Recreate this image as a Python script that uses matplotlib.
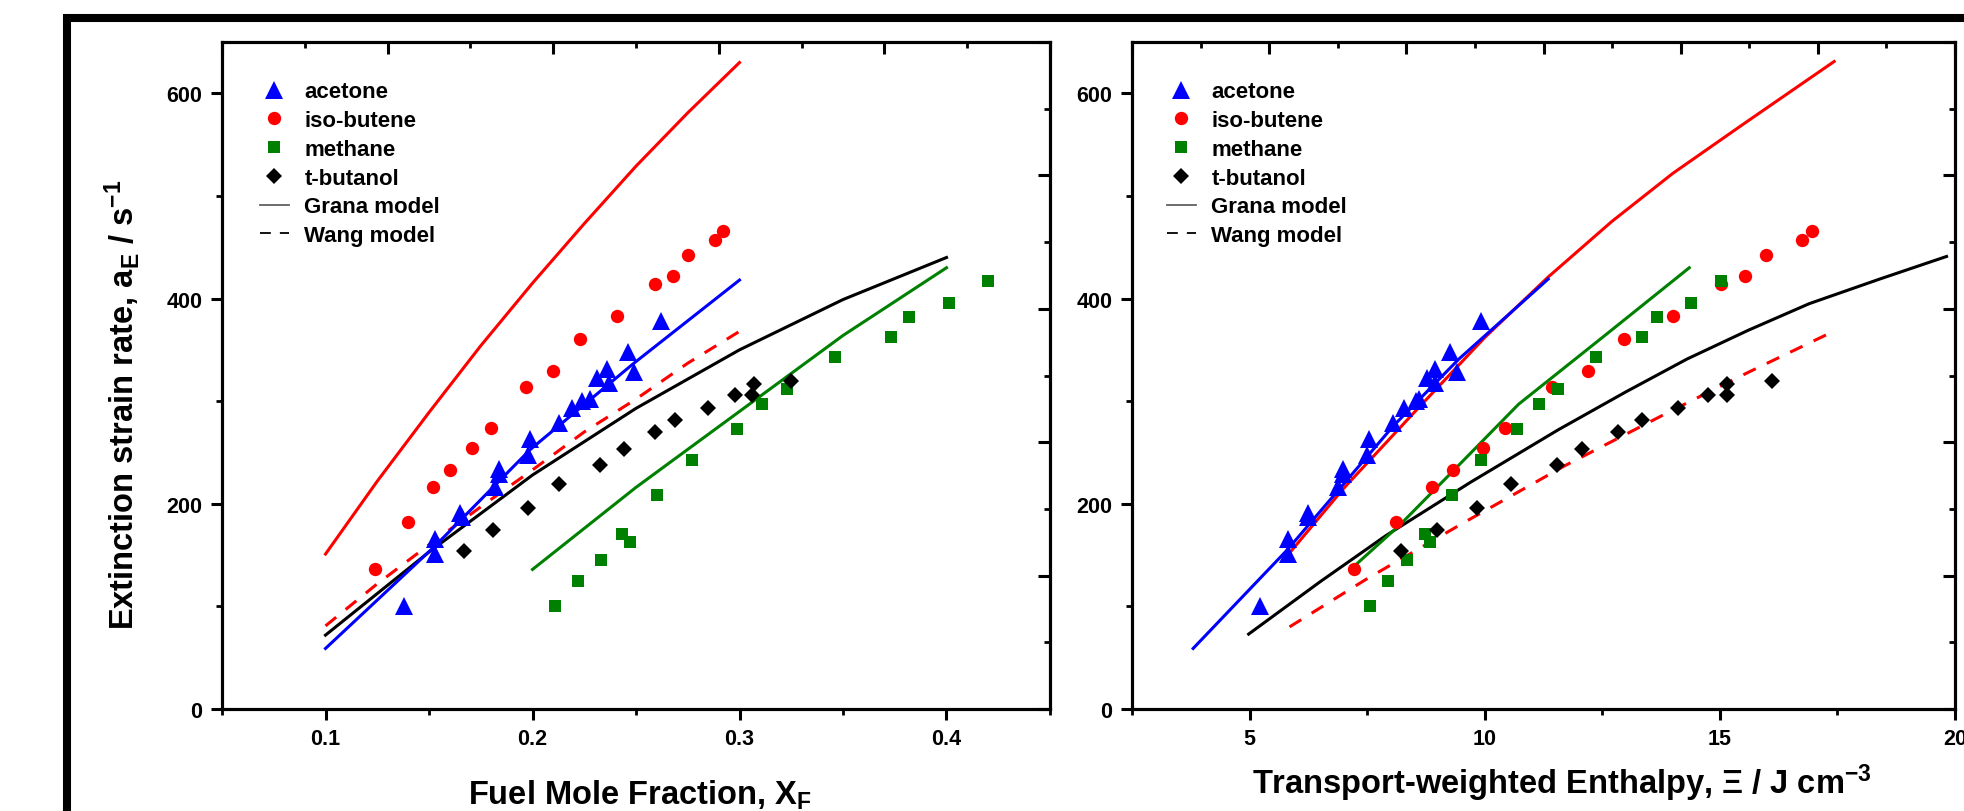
import matplotlib
matplotlib.use("Agg")
import matplotlib.pyplot as plt
from matplotlib.lines import Line2D
from matplotlib.patches import Rectangle
from matplotlib.ticker import MultipleLocator

plt.rcParams['font.family'] = ['Liberation Sans', 'DejaVu Sans']
plt.rcParams['font.weight'] = 'bold'
plt.rcParams['mathtext.fontset'] = 'custom'
plt.rcParams['mathtext.rm'] = 'Liberation Sans:bold'
plt.rcParams['mathtext.it'] = 'Liberation Sans:bold'
plt.rcParams['mathtext.bf'] = 'Liberation Sans:bold'

# ---------------- data ----------------
acetone_rate = [100, 151, 166, 191, 187, 216, 229, 234, 248, 263, 279, 293, 300, 302, 323, 331, 318, 348, 328, 378]
acetone_xf = [0.138, 0.153, 0.153, 0.165, 0.166, 0.182, 0.184, 0.184, 0.198, 0.199, 0.213, 0.219, 0.224, 0.228,
              0.231, 0.236, 0.237, 0.246, 0.249, 0.262]
acetone_xi = [5.23, 5.81, 5.81, 6.25, 6.25, 6.88, 6.99, 6.99, 7.49, 7.54, 8.06, 8.29, 8.54, 8.60, 8.77, 8.94,
              8.95, 9.27, 9.41, 9.92]

isobutene_rate = [136, 182, 216, 233, 254, 274, 314, 329, 361, 383, 414, 422, 442, 457, 466]
isobutene_xf = [0.124, 0.140, 0.152, 0.160, 0.171, 0.180, 0.197, 0.210, 0.223, 0.241, 0.259, 0.268, 0.275, 0.288, 0.292]
isobutene_xi = [7.22, 8.12, 8.87, 9.33, 9.96, 10.44, 11.43, 12.19, 12.96, 14.00, 15.03, 15.53, 15.99, 16.75, 16.96]

methane_rate = [100, 125, 145, 171, 163, 209, 243, 273, 297, 312, 343, 363, 382, 396, 417]
methane_xf = [0.211, 0.222, 0.233, 0.243, 0.247, 0.260, 0.277, 0.299, 0.311, 0.323, 0.346, 0.373, 0.382, 0.401, 0.420]
methane_xi = [7.56, 7.94, 8.35, 8.72, 8.84, 9.30, 9.92, 10.69, 11.15, 11.56, 12.37, 13.34, 13.67, 14.38, 15.03]

tbutanol_rate = [154, 174, 196, 219, 238, 253, 270, 282, 293, 306, 317, 306, 320]
tbutanol_xf = [0.167, 0.181, 0.198, 0.213, 0.2325, 0.244, 0.259, 0.269, 0.285, 0.298, 0.307, 0.306, 0.325]
tbutanol_xi = [8.23, 8.98, 9.84, 10.55, 11.54, 12.07, 12.83, 13.34, 14.11, 14.75, 15.16, 15.16, 16.10]

# model curves, left panel (fuel mole fraction)
grana_acetone_xf = [0.1, 0.153, 0.199, 0.249, 0.300]
grana_acetone_rate_l = [59, 159, 253, 337, 418]
grana_isobutene_xf = [0.1, 0.125, 0.15, 0.175, 0.2, 0.225, 0.25, 0.275, 0.3]
grana_isobutene_rate_l = [151, 222, 289, 354, 415, 473, 529, 581, 630]
wang_isobutene_xf = [0.1, 0.125, 0.15, 0.175, 0.2, 0.225, 0.25, 0.275, 0.3]
wang_isobutene_rate_l = [81, 122, 160, 197, 233, 270, 302, 337, 368]
grana_tbutanol_xf = [0.1, 0.15, 0.2, 0.25, 0.3, 0.35, 0.4]
grana_tbutanol_rate_l = [72, 153, 228, 293, 350, 399, 440]
grana_methane_xf = [0.2, 0.25, 0.3, 0.35, 0.4]
grana_methane_rate_l = [136, 216, 290, 364, 430]

# model curves, right panel (transport-weighted enthalpy)
grana_acetone_xi = [3.8, 5.8, 8.06, 9.45, 11.35]
grana_acetone_rate_r = [59, 155, 276, 341, 419]
grana_isobutene_xi = [5.83, 7.0, 8.5, 10.0, 11.35, 12.7, 14.0, 15.5, 17.43]
grana_isobutene_rate_r = [151, 215, 289, 362, 421, 475, 522, 570, 631]
wang_isobutene_xi = [5.85, 7.5, 9.57, 11.7, 13.9, 15.6, 17.28]
wang_isobutene_rate_r = [80, 127, 182, 237, 289, 328, 365]
grana_tbutanol_xi = [4.98, 6.5, 7.9, 9.7, 11.56, 13.0, 14.3, 15.6, 16.9, 18.4, 19.82]
grana_tbutanol_rate_r = [73, 124, 169, 221, 272, 309, 341, 369, 395, 419, 441]
grana_methane_xi = [7.22, 8.21, 9.5, 10.72, 12.5, 14.35]
grana_methane_rate_r = [139, 180, 240, 297, 362, 430]

legend_labels = ['acetone', 'iso-butene', 'methane', 't-butanol', 'Grana model', 'Wang model']

# ---------------- figure ----------------
W, H = 1965, 812
fig = plt.figure(figsize=(W / 100, H / 100), dpi=100)

# thick outer frame (clipped by the image edges at right and bottom)
fig.patches.append(Rectangle((67 / W, -0.3), 2.0, 1.3 - 19 / H, transform=fig.transFigure,
                             fill=False, edgecolor='black', linewidth=5.8, zorder=0))

ax_b = 102 / H
ax_h = 667 / H
axL = fig.add_axes([222 / W, ax_b, 828 / W, ax_h])
axR = fig.add_axes([1132 / W, ax_b, 823 / W, ax_h])

BLUE, RED, GREEN, BLACK = '#0000FF', '#FF0000', '#008000', '#000000'
LW = 2.2
DASH = (0, (4.5, 4.0))
MS = dict(tri=12.3, circ=9.6, sq=8.4, dia=8.2)
mk = dict(linestyle='none', markeredgewidth=0, zorder=5)


def style(ax, xmaj, xmin, xlim, top_n):
    ax.set_xlim(*xlim)
    ax.set_ylim(0, 650)
    ax.xaxis.set_major_locator(MultipleLocator(xmaj))
    ax.xaxis.set_minor_locator(MultipleLocator(xmin))
    ax.yaxis.set_major_locator(MultipleLocator(200))
    ax.yaxis.set_minor_locator(MultipleLocator(100))
    for s in ax.spines.values():
        s.set_linewidth(2.2)
    ax.tick_params(axis='both', which='major', direction='out', length=8, width=2.2,
                   labelsize=15.5, pad=6)
    ax.tick_params(axis='both', which='minor', direction='out', length=4, width=2.0)
    ax.tick_params(top=False, right=False)
    # independent top and right tick axes (inward ticks, no labels)
    t = ax.twiny()
    t.set_xlim(0, top_n)
    t.xaxis.set_major_locator(MultipleLocator(2))
    t.xaxis.set_minor_locator(MultipleLocator(1))
    t.tick_params(axis='x', which='major', direction='in', length=8.6, width=2.2, labeltop=False)
    t.tick_params(axis='x', which='minor', direction='in', length=4.3, width=2.0)
    r = ax.twinx()
    r.set_ylim(0, 10)
    r.yaxis.set_major_locator(MultipleLocator(2))
    r.yaxis.set_minor_locator(MultipleLocator(1))
    r.tick_params(axis='y', which='major', direction='in', length=8.6, width=2.2, labelright=False)
    r.tick_params(axis='y', which='minor', direction='in', length=4.3, width=2.0)
    for a in (t, r):
        for s in a.spines.values():
            s.set_linewidth(2.2)
    for lab in ax.get_xticklabels() + ax.get_yticklabels():
        lab.set_fontweight('bold')


style(axL, 0.1, 0.05, (0.05, 0.45), 10)
style(axR, 5, 2.5, (2.5, 20), 12)

# left panel
axL.plot(grana_isobutene_xf, grana_isobutene_rate_l, color=RED, lw=LW, zorder=3)
axL.plot(wang_isobutene_xf, wang_isobutene_rate_l, color=RED, lw=LW, linestyle=DASH, zorder=3)
axL.plot(grana_tbutanol_xf, grana_tbutanol_rate_l, color=BLACK, lw=LW, zorder=3)
axL.plot(grana_methane_xf, grana_methane_rate_l, color=GREEN, lw=LW, zorder=3)
axL.plot(grana_acetone_xf, grana_acetone_rate_l, color=BLUE, lw=LW, zorder=3)
axL.plot(acetone_xf, acetone_rate, marker='^', color=BLUE, markersize=MS['tri'], **mk)
axL.plot(isobutene_xf, isobutene_rate, marker='o', color=RED, markersize=MS['circ'], **mk)
axL.plot(methane_xf, methane_rate, marker='s', color=GREEN, markersize=MS['sq'], **mk)
axL.plot(tbutanol_xf, tbutanol_rate, marker='D', color=BLACK, markersize=MS['dia'], **mk)

# right panel
axR.plot(grana_isobutene_xi, grana_isobutene_rate_r, color=RED, lw=LW, zorder=3)
axR.plot(wang_isobutene_xi, wang_isobutene_rate_r, color=RED, lw=LW, linestyle=DASH, zorder=3)
axR.plot(grana_tbutanol_xi, grana_tbutanol_rate_r, color=BLACK, lw=LW, zorder=3)
axR.plot(grana_methane_xi, grana_methane_rate_r, color=GREEN, lw=LW, zorder=3)
axR.plot(grana_acetone_xi, grana_acetone_rate_r, color=BLUE, lw=LW, zorder=3)
axR.plot(acetone_xi, acetone_rate, marker='^', color=BLUE, markersize=MS['tri'], **mk)
axR.plot(isobutene_xi, isobutene_rate, marker='o', color=RED, markersize=MS['circ'], **mk)
axR.plot(methane_xi, methane_rate, marker='s', color=GREEN, markersize=MS['sq'], **mk)
axR.plot(tbutanol_xi, tbutanol_rate, marker='D', color=BLACK, markersize=MS['dia'], **mk)

# labels
axL.set_ylabel('Extinction strain rate, a$_{\\rm E}$ / s$^{-1}$', fontsize=23.5, fontweight='bold')
axL.yaxis.set_label_coords(-0.097, 0.457)
axL.set_xlabel('Fuel Mole Fraction, X$_{\\rm F}$', fontsize=23.5, fontweight='bold')
axL.xaxis.set_label_coords(0.505, -0.103)
axR.set_xlabel('Transport-weighted Enthalpy, \u039E / J cm$^{-3}$', fontsize=23.5, fontweight='bold')
axR.xaxis.set_label_coords(0.5225, -0.079)


def legend_handles():
    return [
        Line2D([], [], marker='^', color=BLUE, markersize=MS['tri'], linestyle='none', markeredgewidth=0),
        Line2D([], [], marker='o', color=RED, markersize=MS['circ'], linestyle='none', markeredgewidth=0),
        Line2D([], [], marker='s', color=GREEN, markersize=MS['sq'], linestyle='none', markeredgewidth=0),
        Line2D([], [], marker='D', color=BLACK, markersize=MS['dia'], linestyle='none', markeredgewidth=0),
        Line2D([], [], color='#606060', lw=1.3),
        Line2D([], [], color=BLACK, lw=1.3, linestyle=(0, (6, 5))),
    ]


for ax, x0 in ((axL, 0.0459), (axR, 0.0425)):
    leg = ax.legend(legend_handles(), legend_labels, loc='upper left', bbox_to_anchor=(x0, 0.941),
                    frameon=False, borderaxespad=0, borderpad=0, handlelength=1.3,
                    handletextpad=0.7, labelspacing=0.35, numpoints=1,
                    prop={'family': 'Liberation Sans', 'weight': 'bold', 'size': 16})
    leg.set_zorder(10)

fig.savefig('out.png', dpi=100)
